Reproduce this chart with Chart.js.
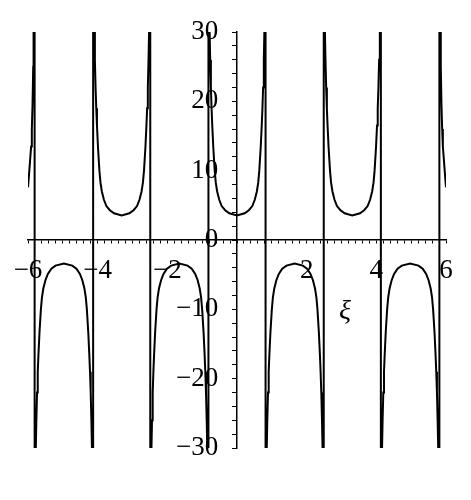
<!DOCTYPE html>
<html>
<head>
<meta charset="utf-8">
<script src="https://cdn.jsdelivr.net/npm/chart.js@4"></script>
<style>
html,body{margin:0;padding:0;background:#fff;}
#wrap{width:471px;height:500px;}
</style>
</head>
<body>
<div id="wrap"><canvas id="c" width="471" height="500"></canvas></div>
<script>
// ξ values of the plotted curve (branches joined across the asymptotes, as in the original plot)
const xi = [
  -6.00,-5.97,-5.94,-5.91,-5.89,-5.87,-5.85,-5.84,
  -5.81,-5.81,
  -5.78,-5.76,-5.74,-5.72,-5.70,-5.67,-5.63,-5.60,-5.56,-5.50,-5.43,-5.33,-5.21,-4.97,
  -4.73,-4.61,-4.51,-4.44,-4.38,-4.34,-4.31,-4.27,-4.24,-4.22,-4.20,-4.18,-4.16,
  -4.13,-4.13,
  -4.10,-4.08,-4.06,-4.04,-4.02,-3.99,-3.95,-3.92,-3.88,-3.82,-3.75,-3.65,-3.53,-3.31,
  -3.09,-2.97,-2.87,-2.80,-2.74,-2.70,-2.67,-2.63,-2.60,-2.58,-2.56,-2.54,-2.52,
  -2.49,-2.49,
  -2.46,-2.44,-2.42,-2.40,-2.38,-2.35,-2.31,-2.28,-2.24,-2.18,-2.11,-2.01,-1.89,-1.655,
  -1.42,-1.30,-1.20,-1.13,-1.07,-1.03,-1.00,-0.96,-0.93,-0.91,-0.89,-0.87,-0.85,
  -0.82,-0.82,
  -0.79,-0.77,-0.75,-0.73,-0.71,-0.68,-0.64,-0.61,-0.57,-0.51,-0.44,-0.34,-0.22,0.00,
  0.22,0.34,0.44,0.51,0.57,0.61,0.64,0.68,0.71,0.73,0.75,0.77,0.79,
  0.82,0.82,
  0.85,0.87,0.89,0.91,0.93,0.96,1.00,1.03,1.07,1.13,1.20,1.30,1.42,1.655,
  1.89,2.01,2.11,2.18,2.24,2.28,2.31,2.35,2.38,2.40,2.42,2.44,2.46,
  2.49,2.49,
  2.52,2.54,2.56,2.58,2.60,2.63,2.67,2.70,2.74,2.80,2.87,2.97,3.09,3.31,
  3.53,3.65,3.75,3.82,3.88,3.92,3.95,3.99,4.02,4.04,4.06,4.08,4.10,
  4.13,4.13,
  4.16,4.18,4.20,4.22,4.24,4.27,4.31,4.34,4.38,4.44,4.51,4.61,4.73,4.97,
  5.21,5.33,5.43,5.50,5.56,5.60,5.63,5.67,5.70,5.72,5.74,5.76,5.78,
  5.81,5.81,
  5.84,5.85,5.87,5.89,5.91,5.94,5.97,6.00
];
// function values
const fv = [
  7.6,9.5,11.5,13.5,16,19.5,25,31,
  31,-31,
  -31,-26,-22,-19,-16.5,-13.3,-10,-8.3,-7.0,-5.8,-4.9,-4.15,-3.7,-3.4,
  -3.7,-4.15,-4.9,-5.8,-7.0,-8.3,-10,-13.3,-16.5,-19,-22,-26,-31,
  -31,31,
  31,26,22,19,16.5,13.3,10,8.3,7.0,5.8,4.9,4.3,3.85,3.55,
  3.85,4.3,4.9,5.8,7.0,8.3,10,13.3,16.5,19,22,26,31,
  31,-31,
  -31,-26,-22,-19,-16.5,-13.3,-10,-8.3,-7.0,-5.8,-4.9,-4.15,-3.7,-3.4,
  -3.7,-4.15,-4.9,-5.8,-7.0,-8.3,-10,-13.3,-16.5,-19,-22,-26,-31,
  -31,31,
  31,26,22,19,16.5,13.3,10,8.3,7.0,5.8,4.9,4.3,3.85,3.55,
  3.85,4.3,4.9,5.8,7.0,8.3,10,13.3,16.5,19,22,26,31,
  31,-31,
  -31,-26,-22,-19,-16.5,-13.3,-10,-8.3,-7.0,-5.8,-4.9,-4.15,-3.7,-3.4,
  -3.7,-4.15,-4.9,-5.8,-7.0,-8.3,-10,-13.3,-16.5,-19,-22,-26,-31,
  -31,31,
  31,26,22,19,16.5,13.3,10,8.3,7.0,5.8,4.9,4.3,3.85,3.55,
  3.85,4.3,4.9,5.8,7.0,8.3,10,13.3,16.5,19,22,26,31,
  31,-31,
  -31,-26,-22,-19,-16.5,-13.3,-10,-8.3,-7.0,-5.8,-4.9,-4.15,-3.7,-3.4,
  -3.7,-4.15,-4.9,-5.8,-7.0,-8.3,-10,-13.3,-16.5,-19,-22,-26,-31,
  -31,31,
  31,25,19.5,16,13.5,11.5,9.5,7.6
];
const xTickValues = [-6,-4,-2,2,4,6];
const xTickLabels = ['\u22126','\u22124','\u22122','2','4','6'];
const yTickValues = [-30,-20,-10,0,10,20,30];
const yTickLabels = ['\u221230','\u221220','\u221210','0','10','20','30'];
const xTitle = '\u03BE';

const pts = xi.map((x,i)=>({x:x, y:fv[i]}));

function labelFor(v, vals, labels){
  for (let i=0;i<vals.length;i++){ if (Math.abs(v-vals[i])<1e-6) return labels[i]; }
  return '';
}

const titlePlugin = {
  id:'xiTitle',
  afterDraw(chart){
    const ctx = chart.ctx;
    const xs = chart.scales.x, ys = chart.scales.y;
    ctx.save();
    ctx.fillStyle = '#000';
    ctx.font = 'italic 28px "Liberation Serif", "DejaVu Serif", serif';
    ctx.textAlign = 'center';
    ctx.textBaseline = 'middle';
    ctx.fillText(xTitle, xs.getPixelForValue(3.1), ys.getPixelForValue(-10.3));
    ctx.restore();
  }
};

const font = {family:'"Liberation Serif", "DejaVu Serif", serif', size:27};

new Chart(document.getElementById('c'), {
  type:'line',
  data:{datasets:[{
    data: pts,
    borderColor:'#000',
    borderWidth:2,
    pointRadius:0,
    tension:0,
    fill:false,
    yAxisID:'y'
  }]},
  options:{
    responsive:false,
    devicePixelRatio:1,
    animation:false,
    layout:{padding:{left:28,right:25,top:32,bottom:52}},
    plugins:{legend:{display:false}, tooltip:{enabled:false}},
    scales:{
      x:{
        type:'linear', min:-6, max:6,
        position:{y:0},
        afterBuildTicks(scale){
          const t=[]; for(let k=-30;k<=30;k++){ t.push({value:k/5}); }
          scale.ticks=t;
        },
        ticks:{autoSkip:false, maxRotation:0, color:'#000', font:font, padding:12,
          callback:(v)=>labelFor(v, xTickValues, xTickLabels)},
        grid:{drawOnChartArea:false, drawTicks:true, tickLength:3, color:'#000', lineWidth:1},
        border:{display:true, color:'#000', width:1.5}
      },
      y:{
        type:'linear', min:-30, max:30,
        position:{x:0},
        afterBuildTicks(scale){
          const t=[]; for(let k=-15;k<=15;k++){ t.push({value:k*2}); }
          scale.ticks=t;
        },
        ticks:{autoSkip:false, color:'#000', font:font, padding:0,
          callback:()=>''},
        grid:{drawOnChartArea:false, drawTicks:true, tickLength:4, color:'#000', lineWidth:1},
        border:{display:true, color:'#000', width:1.5}
      },
      yLabels:{
        type:'linear', min:-30, max:30,
        position:{x:-0.54},
        afterBuildTicks(scale){
          scale.ticks = yTickValues.map(v=>({value:v}));
        },
        ticks:{autoSkip:false, color:'#000', font:font, padding:0,
          callback:(v)=>labelFor(v, yTickValues, yTickLabels)},
        grid:{display:false, drawOnChartArea:false, drawTicks:false},
        border:{display:false}
      }
    }
  },
  plugins:[titlePlugin]
});
</script>
</body>
</html>
